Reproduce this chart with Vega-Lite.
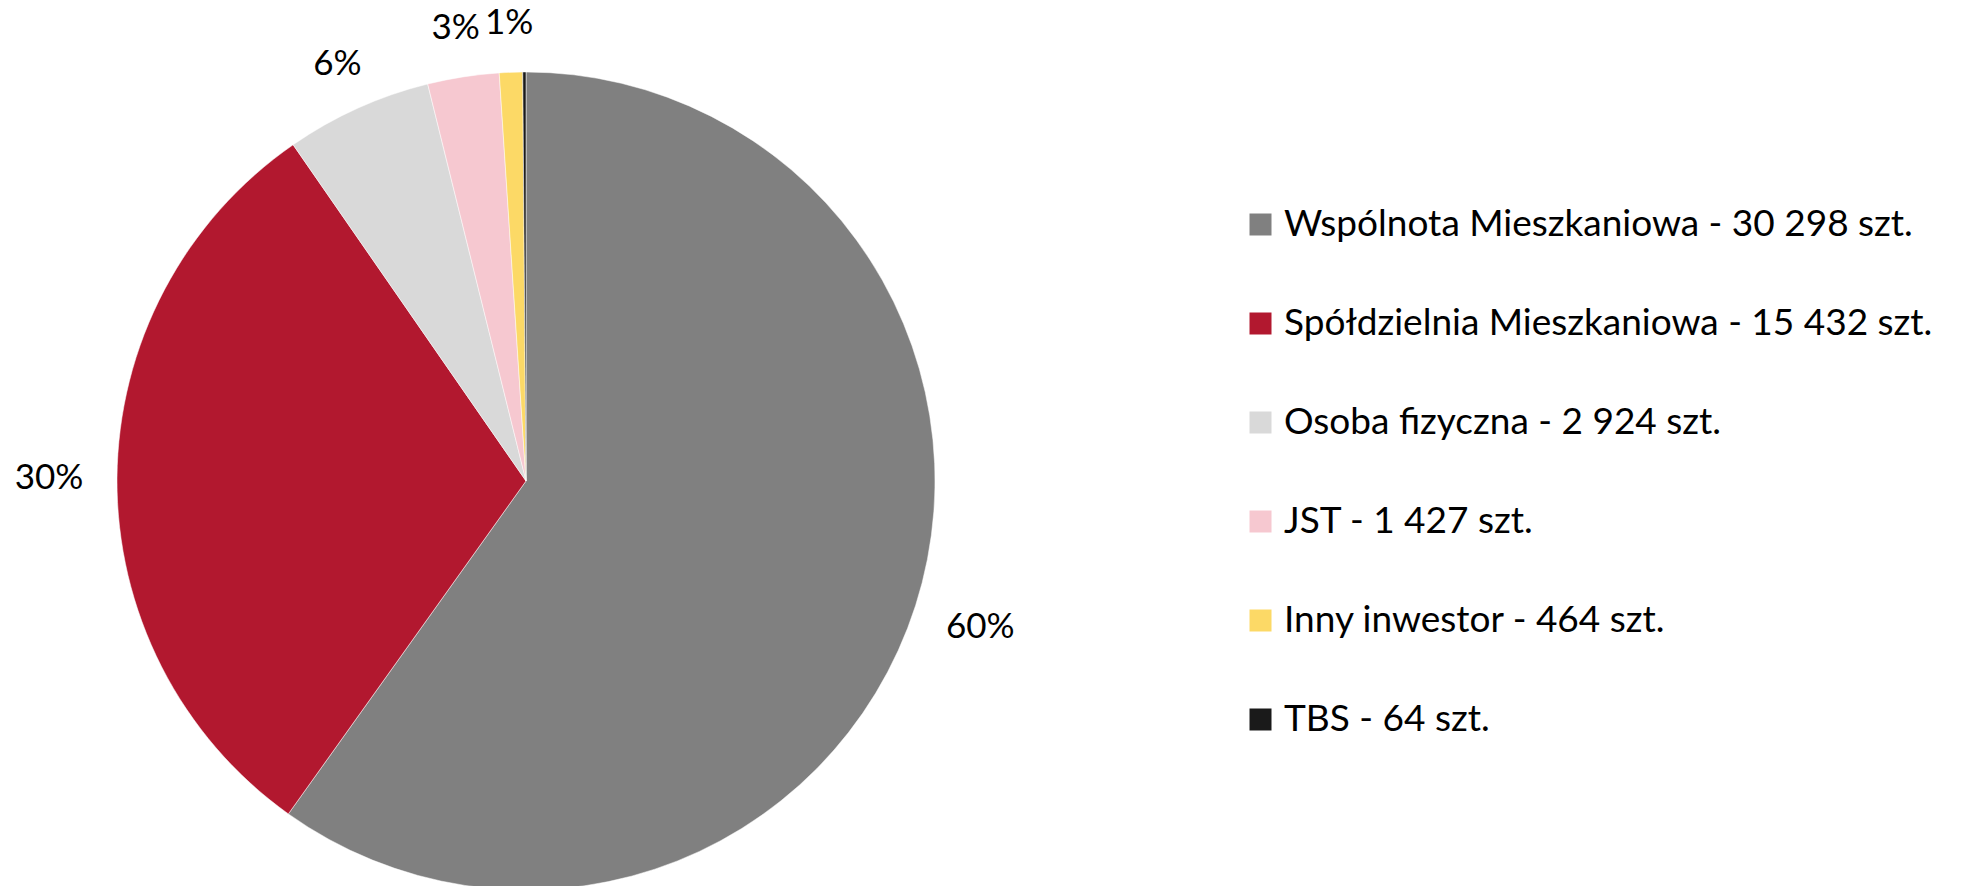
{
  "$schema": "https://vega.github.io/schema/vega-lite/v6.json",
  "autosize": {"type": "none"},
  "width": 1052,
  "height": 886,
  "padding": {"top": 38, "bottom": -38, "left": 0, "right": 918},
  "background": "white",
  "config": {
    "view": {"stroke": null},
    "font": "Lato",
    "legend": {
      "orient": "none",
      "legendX": 1242,
      "legendY": 168,
      "padding": 0,
      "labelFont": "Lato",
      "labelFontSize": 37,
      "labelColor": "#000000",
      "labelOffset": 5,
      "labelLimit": 1000,
      "symbolType": "square",
      "symbolSize": 484,
      "symbolStrokeWidth": 0,
      "rowPadding": 61,
      "title": null
    }
  },
  "data": {
    "values": [
      {"order": 1, "name": "Wspólnota Mieszkaniowa", "value": 30298},
      {"order": 2, "name": "Spółdzielnia Mieszkaniowa", "value": 15432},
      {"order": 3, "name": "Osoba fizyczna", "value": 2924},
      {"order": 4, "name": "JST", "value": 1427},
      {"order": 5, "name": "Inny inwestor", "value": 464},
      {"order": 6, "name": "TBS", "value": 64}
    ]
  },
  "transform": [
    {"joinaggregate": [{"op": "sum", "field": "value", "as": "total"}]},
    {"calculate": "datum.value / datum.total", "as": "share"},
    {"calculate": "datum.name + ' - ' + replace(format(datum.value, ','), /,/g, ' ') + ' szt.'", "as": "label"}
  ],
  "encoding": {
    "theta": {"field": "value", "type": "quantitative", "stack": true},
    "order": {"field": "order", "type": "quantitative"}
  },
  "layer": [
    {
      "mark": {"type": "arc", "radius": 409, "stroke": "white", "strokeWidth": 0.5},
      "encoding": {
        "color": {
          "field": "label",
          "type": "nominal",
          "sort": {"field": "order"},
          "scale": {
            "domain": [
              "Wspólnota Mieszkaniowa - 30 298 szt.",
              "Spółdzielnia Mieszkaniowa - 15 432 szt.",
              "Osoba fizyczna - 2 924 szt.",
              "JST - 1 427 szt.",
              "Inny inwestor - 464 szt.",
              "TBS - 64 szt."
            ],
            "range": ["#808080", "#B2182F", "#D9D9D9", "#F6C8D0", "#FCD966", "#1A1A1A"]
          },
          "legend": {"title": null}
        }
      }
    },
    {
      "mark": {"type": "text", "radius": 477, "fontSize": 35, "font": "Lato", "color": "#000000", "align": "center", "baseline": "middle"},
      "encoding": {
        "text": {
          "condition": {"test": "datum.share < 0.2", "value": ""},
          "field": "share", "type": "quantitative", "format": ".0%"
        }
      }
    },
    {
      "mark": {"type": "text", "radius": 458, "fontSize": 35, "font": "Lato", "color": "#000000", "align": "center", "baseline": "middle"},
      "encoding": {
        "text": {
          "condition": {"test": "datum.share >= 0.2 || datum.share < 0.005", "value": ""},
          "field": "share", "type": "quantitative", "format": ".0%"
        }
      }
    }
  ]
}
